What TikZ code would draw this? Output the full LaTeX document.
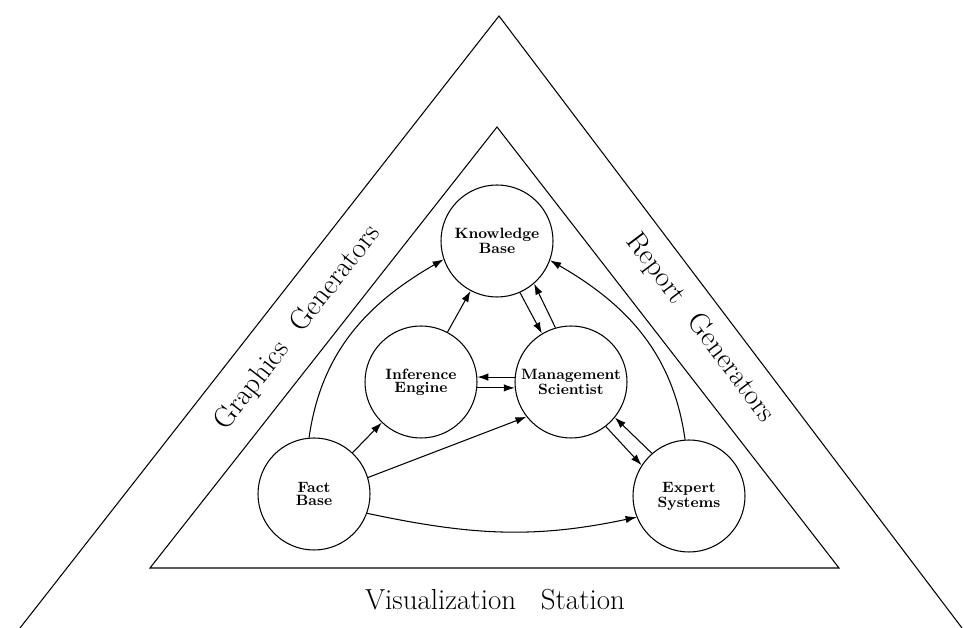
\documentclass[tikz,border=0pt]{standalone}
\usepackage{fontspec}
\usetikzlibrary{arrows.meta}

\begin{document}
\begin{tikzpicture}[>={Latex[length=2.2mm,width=1.5mm]}, line width=0.6pt,
                    unit/.style={draw, circle, minimum size=2.24cm, inner sep=0pt, align=center,
                                 font=\bfseries\fontsize{8.5}{7.4}\selectfont},
                    band/.style={font=\fontsize{16.5}{18}\selectfont}]
  \useasboundingbox (0,0) rectangle (19.28,12.56);
  % outer triangle (its base lies below the page)
  \coordinate (top) at (9.98,12.24);
  \coordinate (outL) at (0.40,0);
  \coordinate (outR) at (19.24,0);
  \draw (outL) -- (top) -- (outR);
  % inner triangle
  \coordinate (itop) at (9.94,10.02);
  \coordinate (inL) at (3.00,1.20);
  \coordinate (inR) at (16.78,1.20);
  \draw (inL) -- (itop) -- (inR) -- cycle;
  % band labels
  \node[band, rotate=52] (graphics) at (5.96,6.00) {Graphics\hspace{0.4em} Generators};
  \node[band, rotate=-53] (report) at (14.00,6.00) {Report\hspace{0.4em} Generators};
  \node[band] (visual) at (9.90,0.56) {Visualization\hspace{0.55em} Station};
  % the five units
  \node[unit] (kb) at (9.94,7.74) {Knowledge\\Base};
  \node[unit] (ie) at (8.42,4.92) {Inference\\Engine};
  \node[unit] (ms) at (11.42,4.92) {Management\\Scientist};
  \node[unit] (fb) at (6.28,2.68) {Fact\\Base};
  \node[unit] (es) at (13.78,2.64) {Expert\\Systems};
  % flows from the fact base
  \draw[->] (fb.95) to[out=82,in=210] (kb.199);
  \draw[->] (fb.47) -- (ie.-134);
  \draw[->] (fb.17) -- (ms.-142);
  \draw[->] (fb.-20) to[out=-12,in=192] (es.202);
  % inner cycle
  \draw[->] (ie.62) -- (kb.-118);
  \draw[->] (kb.-66) -- (ms.121);
  \draw[->] (ms.106) -- (kb.-49);
  \draw[->] (ms.175) -- (ie.5);
  \draw[->] (ie.-6) -- (ms.186);
  \draw[->] (ms.-52) -- (es.147);
  \draw[->] (es.131) -- (ms.-39);
  \draw[->] (es.94) to[out=98,in=-30] (kb.-20);
\end{tikzpicture}
\end{document}
